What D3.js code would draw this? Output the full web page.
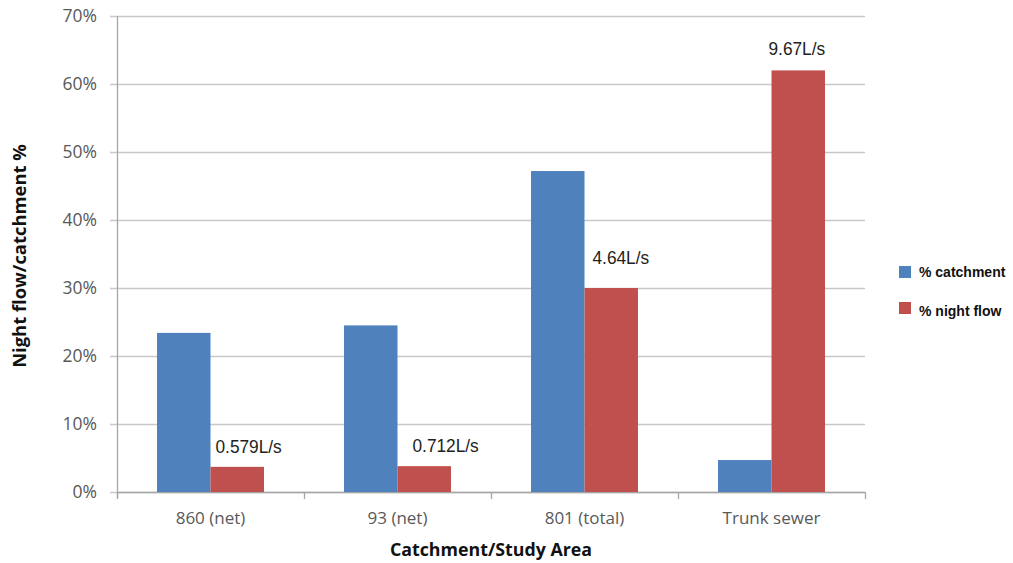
<!DOCTYPE html>
<html>
<head>
<meta charset="utf-8">
<script src="https://cdn.jsdelivr.net/npm/d3@7"></script>
<style>
  html, body { margin: 0; padding: 0; background: #fff; }
  svg { display: block; }
</style>
</head>
<body>
<svg id="chart" width="1013" height="563"></svg>
<script>
// Catchment areas and their share of catchment area / night flow
const categories = ["860 (net)", "93 (net)", "801 (total)", "Trunk sewer"];
const catchmentPct = [23.4, 24.5, 47.2, 4.7];
const nightFlowPct = [3.7, 3.8, 30.0, 62.0];
const flowLabels = ["0.579L/s", "0.712L/s", "4.64L/s", "9.67L/s"];
const seriesNames = ["% catchment", "% night flow"];
const yTicks = [0, 10, 20, 30, 40, 50, 60, 70];

const colors = ["#4F81BD", "#C0504D"];
const svg = d3.select("#chart");

const plot = { left: 117, right: 865, top: 16, bottom: 492 };

const x = d3.scaleBand().domain(categories).range([plot.left, plot.right]).padding(0);
const y = d3.scaleLinear().domain([0, 70]).range([plot.bottom, plot.top]);
const barW = x.bandwidth() * 0.286;

// horizontal gridlines with short ticks left of the axis
svg.append("g").selectAll("line").data(yTicks).join("line")
  .attr("x1", plot.left - 7).attr("x2", plot.right)
  .attr("y1", d => Math.round(y(d)) + 0.5).attr("y2", d => Math.round(y(d)) + 0.5)
  .attr("stroke", "#c8c8c8").attr("stroke-width", 1.3);

// y tick labels
svg.append("g").selectAll("text").data(yTicks).join("text")
  .attr("x", 97).attr("y", d => y(d))
  .attr("dy", "0.35em").attr("text-anchor", "end")
  .attr("font-family", "'Open Sans', sans-serif").attr("font-size", 17.5)
  .attr("fill", "#595959")
  .text(d => d + "%");

// y axis line
svg.append("line")
  .attr("x1", plot.left + 0.5).attr("x2", plot.left + 0.5)
  .attr("y1", plot.top).attr("y2", plot.bottom + 6)
  .attr("stroke", "#a6a6a6").attr("stroke-width", 1.3);

// x axis baseline and category boundary ticks
svg.append("line")
  .attr("x1", plot.left).attr("x2", plot.right)
  .attr("y1", plot.bottom + 0.5).attr("y2", plot.bottom + 0.5)
  .attr("stroke", "#a6a6a6").attr("stroke-width", 1.3);
const bounds = categories.map(c => x(c)).concat([plot.right]);
svg.append("g").selectAll("line").data(bounds).join("line")
  .attr("x1", d => d + 0.5).attr("x2", d => d + 0.5)
  .attr("y1", plot.bottom).attr("y2", plot.bottom + 7)
  .attr("stroke", "#a6a6a6").attr("stroke-width", 1.3);

// bars
const center = c => x(c) + x.bandwidth() / 2;
const series = [catchmentPct, nightFlowPct];
series.forEach((vals, si) => {
  svg.append("g").selectAll("rect").data(categories).join("rect")
    .attr("x", c => center(c) - barW + si * barW)
    .attr("y", (c, i) => y(vals[i]))
    .attr("width", barW)
    .attr("height", (c, i) => plot.bottom - y(vals[i]))
    .attr("fill", colors[si]);
});

// flow labels above the night-flow bars
const nudge = [[5, -20], [15, -20], [8, -30], [-3, -22]];
svg.append("g").selectAll("text").data(categories).join("text")
  .attr("x", (c, i) => center(c) + nudge[i][0])
  .attr("y", (c, i) => y(nightFlowPct[i]) + nudge[i][1])
  .attr("dy", "0.35em")
  .attr("text-anchor", "start")
  .attr("font-family", "'Liberation Sans', Arial, sans-serif")
  .attr("font-size", 18)
  .attr("fill", "#222")
  .attr("transform", (c, i) => {
    const cx = center(c) + nudge[i][0];
    return `translate(${cx},0) scale(0.96,1) translate(${-cx},0)`;
  })
  .text((c, i) => flowLabels[i]);

// category labels
svg.append("g").selectAll("text").data(categories).join("text")
  .attr("x", c => center(c)).attr("y", 518)
  .attr("dy", "0.35em").attr("text-anchor", "middle")
  .attr("font-family", "'Open Sans', sans-serif").attr("font-size", 17)
  .attr("fill", "#595959")
  .text(c => c);

// axis titles
svg.append("text")
  .attr("x", 491).attr("y", 550).attr("dy", "0.35em")
  .attr("text-anchor", "middle")
  .attr("font-family", "'Open Sans', sans-serif").attr("font-weight", "bold")
  .attr("font-size", 17.8).attr("fill", "#111")
  .text("Catchment/Study Area");

svg.append("text")
  .attr("transform", "translate(20,256) rotate(-90)")
  .attr("dy", "0.35em").attr("text-anchor", "middle")
  .attr("font-family", "'Open Sans', sans-serif").attr("font-weight", "bold")
  .attr("font-size", 18.4).attr("fill", "#111")
  .text("Night flow/catchment %");

// legend
const legend = svg.append("g").attr("transform", "translate(899,266)");
seriesNames.forEach((name, i) => {
  const g = legend.append("g").attr("transform", `translate(0,${i * 36})`);
  g.append("rect").attr("width", 12).attr("height", 12).attr("fill", colors[i]);
  g.append("text")
    .attr("x", 20).attr("y", 6 + i * 3).attr("dy", "0.35em")
    .attr("font-family", "'Liberation Sans', Arial, sans-serif")
    .attr("font-weight", "bold").attr("font-size", 14).attr("fill", "#111")
    .text(name);
});
</script>
</body>
</html>
